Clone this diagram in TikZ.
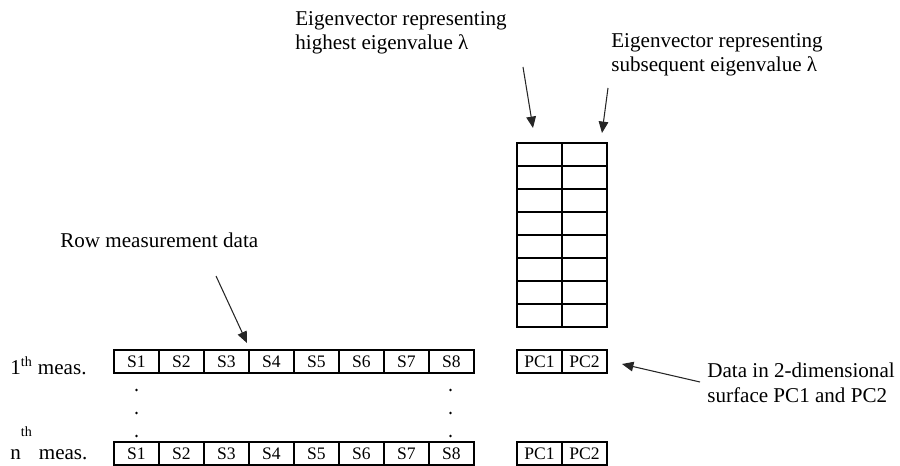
\documentclass[tikz,border=0pt]{standalone}
\usepackage{fontspec}
\setmainfont{Liberation Serif}
\usetikzlibrary{arrows.meta,positioning}

\begin{document}
\begin{tikzpicture}[
  x=0.02cm, y=-0.02cm,
  every node/.style={font=\fontsize{12}{14.2}\selectfont},
  cell/.style={draw,line width=0.7pt,inner sep=0pt,
               minimum width=0.9cm,minimum height=0.46cm,
               font=\fontsize{10}{11}\selectfont},
  lbl/.style={align=left,inner sep=0pt,anchor=base west},
  arr/.style={-{Triangle[length=6.5pt,width=5.5pt]},line width=0.6pt,black!85},
  vdot/.style={circle,fill,inner sep=0pt,minimum size=1.5pt},
]
  \useasboundingbox (0,0) rectangle (900,466);

  % Measurement rows
  \foreach \i in {1,...,8} {
    \node[cell] (sa\i) at ({91.5+45*\i},361.5) {S\i};
    \node[cell] (sn\i) at ({91.5+45*\i},453.5) {S\i};
  }
  \foreach \x/\c in {136.5/a,450.5/b}
    \foreach \y/\r in {390/1,413/2,436/3}
      \node[vdot] (dot\c\r) at (\x,\y) {};

  % Eigenvector matrix
  \foreach \r in {1,...,8}
    \foreach \c in {1,2}
      \node[cell] (ev\r-\c) at ({494.5+45*\c},{131.5+23*\r}) {};

  % Projected data
  \foreach \c in {1,2} {
    \node[cell] (pca\c) at ({494.5+45*\c},361.5) {PC\c};
    \node[cell] (pcn\c) at ({494.5+45*\c},453.5) {PC\c};
  }

  % Row labels
  \node[lbl] (meas1) at (10,374) {1\textsuperscript{th} meas.};
  \node[lbl] (measn) at (10,459)
    {n\raisebox{13pt}{\fontsize{8}{9}\selectfont th}\hspace{4pt}meas.};

  % Annotations (base = last line)
  \node[lbl] (rowlbl) at (60,247) {Row measurement data};
  \node[lbl] (highlbl) at (295,50) {Eigenvector representing\\highest eigenvalue λ};
  \node[lbl] (sublbl) at (611,72) {Eigenvector representing\\subsequent eigenvalue λ};
  \node[lbl] (datalbl) at (707,402) {Data in 2-dimensional\\surface PC1 and PC2};

  % Arrows
  \coordinate (rowtail) at (216,276);
  \coordinate (rowtip) at (247,343);
  \coordinate (hightail) at (523,67);
  \coordinate (hightip) at (533,128);
  \coordinate (subtail) at (608,88);
  \coordinate (subtip) at (602,133);
  \coordinate (datatail) at (700,382);
  \coordinate (datatip) at (622,364);
  \draw[arr] (rowtail) -- (rowtip);
  \draw[arr] (hightail) -- (hightip);
  \draw[arr] (subtail) -- (subtip);
  \draw[arr] (datatail) -- (datatip);
\end{tikzpicture}
\end{document}
